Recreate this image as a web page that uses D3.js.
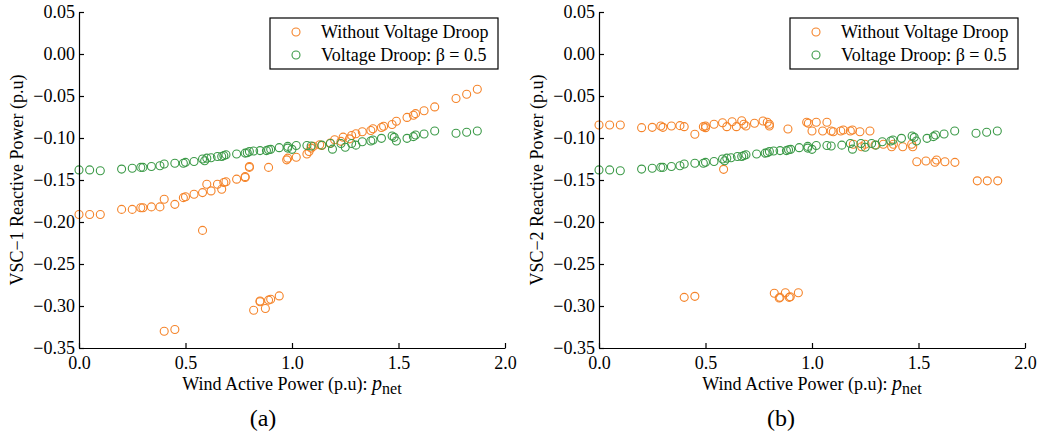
<!DOCTYPE html>
<html>
<head>
<meta charset="utf-8">
<script src="https://cdn.jsdelivr.net/npm/d3@7"></script>
<style>
  html,body{margin:0;padding:0;background:#fff;}
  text{font-family:"Liberation Serif","Times New Roman",serif;fill:#000;}
</style>
</head>
<body>
<div id="chart"></div>
<script>
// data: [p_net, Q]
const vsc1NoDroop=[[0.00,-0.191],[0.05,-0.191],[0.10,-0.191],[0.20,-0.185],[0.25,-0.185],[0.29,-0.183],[0.30,-0.183],[0.34,-0.182],[0.38,-0.182],[0.40,-0.173],[0.40,-0.330],[0.45,-0.179],[0.45,-0.328],[0.49,-0.171],[0.50,-0.170],[0.54,-0.167],[0.58,-0.165],[0.58,-0.210],[0.60,-0.155],[0.62,-0.163],[0.65,-0.155],[0.67,-0.161],[0.68,-0.153],[0.69,-0.152],[0.74,-0.149],[0.78,-0.147],[0.78,-0.146],[0.80,-0.135],[0.80,-0.134],[0.82,-0.305],[0.85,-0.295],[0.85,-0.294],[0.875,-0.303],[0.89,-0.293],[0.89,-0.135],[0.90,-0.292],[0.94,-0.288],[0.975,-0.126],[0.98,-0.124],[1.02,-0.123],[1.07,-0.119],[1.08,-0.116],[1.09,-0.112],[1.10,-0.110],[1.13,-0.108],[1.14,-0.109],[1.18,-0.106],[1.20,-0.102],[1.23,-0.104],[1.24,-0.099],[1.27,-0.101],[1.28,-0.097],[1.30,-0.095],[1.33,-0.0925],[1.37,-0.091],[1.38,-0.089],[1.42,-0.0875],[1.43,-0.086],[1.47,-0.084],[1.49,-0.080],[1.54,-0.0755],[1.57,-0.073],[1.58,-0.071],[1.62,-0.0675],[1.67,-0.063],[1.77,-0.053],[1.82,-0.048],[1.87,-0.042]];

const vsc2NoDroop=[[0.00,-0.0845],[0.05,-0.0845],[0.10,-0.0845],[0.20,-0.0877],[0.25,-0.0873],[0.29,-0.0857],[0.30,-0.0873],[0.34,-0.0857],[0.38,-0.0853],[0.40,-0.0865],[0.40,-0.2897],[0.45,-0.0956],[0.45,-0.2885],[0.49,-0.0865],[0.50,-0.0877],[0.50,-0.0857],[0.54,-0.0837],[0.58,-0.0818],[0.585,-0.1373],[0.60,-0.0865],[0.625,-0.0806],[0.645,-0.0865],[0.67,-0.0794],[0.68,-0.0837],[0.69,-0.0857],[0.73,-0.0825],[0.77,-0.0798],[0.79,-0.0813],[0.80,-0.0837],[0.80,-0.0857],[0.823,-0.2849],[0.846,-0.2905],[0.85,-0.2897],[0.875,-0.2842],[0.887,-0.0893],[0.893,-0.2897],[0.898,-0.289],[0.936,-0.2842],[0.975,-0.0813],[0.983,-0.0825],[1.00,-0.0917],[1.02,-0.0813],[1.05,-0.0917],[1.07,-0.0813],[1.09,-0.0917],[1.10,-0.0925],[1.135,-0.0917],[1.147,-0.0905],[1.18,-0.0917],[1.19,-0.0905],[1.194,-0.1075],[1.225,-0.0925],[1.233,-0.1104],[1.249,-0.1075],[1.272,-0.0917],[1.296,-0.1083],[1.335,-0.1075],[1.374,-0.1104],[1.382,-0.1075],[1.426,-0.1104],[1.468,-0.1075],[1.473,-0.1104],[1.492,-0.1282],[1.535,-0.1274],[1.577,-0.1289],[1.585,-0.1262],[1.624,-0.1282],[1.671,-0.129],[1.776,-0.151],[1.823,-0.151],[1.872,-0.151]];

//droop curve looks the same in both panels
const vscDroop=[[0.00,-0.138],[0.05,-0.138],[0.10,-0.139],[0.20,-0.137],[0.25,-0.136],[0.29,-0.135],[0.30,-0.135],[0.34,-0.134],[0.38,-0.133],[0.40,-0.131],[0.45,-0.130],[0.49,-0.130],[0.50,-0.129],[0.54,-0.128],[0.58,-0.125],[0.59,-0.127],[0.60,-0.124],[0.62,-0.1235],[0.65,-0.122],[0.67,-0.122],[0.68,-0.121],[0.69,-0.120],[0.74,-0.119],[0.78,-0.118],[0.79,-0.1175],[0.80,-0.116],[0.82,-0.1155],[0.85,-0.115],[0.88,-0.115],[0.89,-0.114],[0.90,-0.1135],[0.94,-0.1115],[0.98,-0.110],[0.98,-0.112],[1.00,-0.1135],[1.02,-0.109],[1.07,-0.109],[1.09,-0.1095],[1.14,-0.1085],[1.18,-0.1065],[1.19,-0.1133],[1.23,-0.1065],[1.25,-0.111],[1.28,-0.1065],[1.30,-0.1085],[1.33,-0.1045],[1.37,-0.1035],[1.38,-0.1024],[1.42,-0.1004],[1.47,-0.0976],[1.48,-0.0992],[1.49,-0.1035],[1.54,-0.1004],[1.57,-0.0984],[1.58,-0.0964],[1.62,-0.0952],[1.67,-0.0917],[1.77,-0.0944],[1.82,-0.0932],[1.87,-0.0917]];

const xTicks=[0,0.5,1.0,1.5,2.0];
const yTicks=[-0.35,-0.30,-0.25,-0.20,-0.15,-0.10,-0.05,0.00,0.05];
const legendLabels=["Without Voltage Droop","Voltage Droop: β = 0.5"];
const panels=[
  {left:79,yLabel:"VSC−1 Reactive Power (p.u)",tag:"(a)",noDroop:vsc1NoDroop},
  {left:599,yLabel:"VSC−2 Reactive Power (p.u)",tag:"(b)",noDroop:vsc2NoDroop}
];
const orange="#f5842a", green="#3c9a48";

const width=1042,height=435;
const svg=d3.select("#chart").append("svg")
  .attr("width",width).attr("height",height);

const y=d3.scaleLinear().domain([-0.35,0.05]).range([348,12]);

panels.forEach((p,i)=>{
  const x=d3.scaleLinear().domain([0,2]).range([p.left,p.left+426]);
  const g=svg.append("g");

  //points
  g.append("g").selectAll("circle").data(p.noDroop).enter().append("circle")
    .attr("cx",d=>x(d[0])).attr("cy",d=>y(d[1])).attr("r",4)
    .attr("fill","none").attr("stroke",orange).attr("stroke-width",1.1);
  g.append("g").selectAll("circle").data(vscDroop).enter().append("circle")
    .attr("cx",d=>x(d[0])).attr("cy",d=>y(d[1])).attr("r",4)
    .attr("fill","none").attr("stroke",green).attr("stroke-width",1.1);

  //axes, ticks point inward
  const xAxis=g.append("g").attr("transform",`translate(0,${y(-0.35)})`)
    .call(d3.axisBottom(x).tickValues(xTicks).tickSize(-5).tickPadding(8).tickFormat(d3.format(".1f")).tickSizeOuter(0));
  const yAxis=g.append("g").attr("transform",`translate(${p.left},0)`)
    .call(d3.axisLeft(y).tickValues(yTicks).tickSize(-5).tickPadding(4).tickFormat(d3.format(".2f")).tickSizeOuter(0));
  [xAxis,yAxis].forEach(a=>{
    a.select(".domain").attr("stroke","#000").attr("stroke-width",1.2);
    a.selectAll(".tick line").attr("stroke","#000").attr("stroke-width",1.2);
    a.selectAll("text").attr("font-size",18).attr("font-family","Liberation Serif");
  });

  //axis titles
  const xt=g.append("text").attr("x",p.left+213).attr("y",390)
    .attr("text-anchor","middle").attr("font-size",18);
  xt.append("tspan").text("Wind Active Power (p.u): ");
  xt.append("tspan").attr("font-style","italic").attr("font-size",20).text("p");
  xt.append("tspan").attr("dy",4).attr("font-size",16).text("net");

  g.append("text").attr("transform",`translate(${p.left-56},180) rotate(-90)`)
    .attr("text-anchor","middle").attr("font-size",18).text(p.yLabel);

  g.append("text").attr("x",263+i*518).attr("y",426)
    .attr("text-anchor","middle").attr("font-size",24).text(p.tag);

  //legend
  const lx=p.left+191,ly=18;
  const lg=g.append("g").attr("transform",`translate(${lx},${ly})`);
  lg.append("rect").attr("width",228).attr("height",51)
    .attr("fill","#fff").attr("stroke","#000").attr("stroke-width",1.2);
  legendLabels.forEach((t,k)=>{
    lg.append("circle").attr("cx",26).attr("cy",14+k*23).attr("r",4)
      .attr("fill","none").attr("stroke",k===0?orange:green).attr("stroke-width",1.1);
    lg.append("text").attr("x",51).attr("y",20+k*23).attr("font-size",18).text(t);
  });
});
</script>
</body>
</html>
